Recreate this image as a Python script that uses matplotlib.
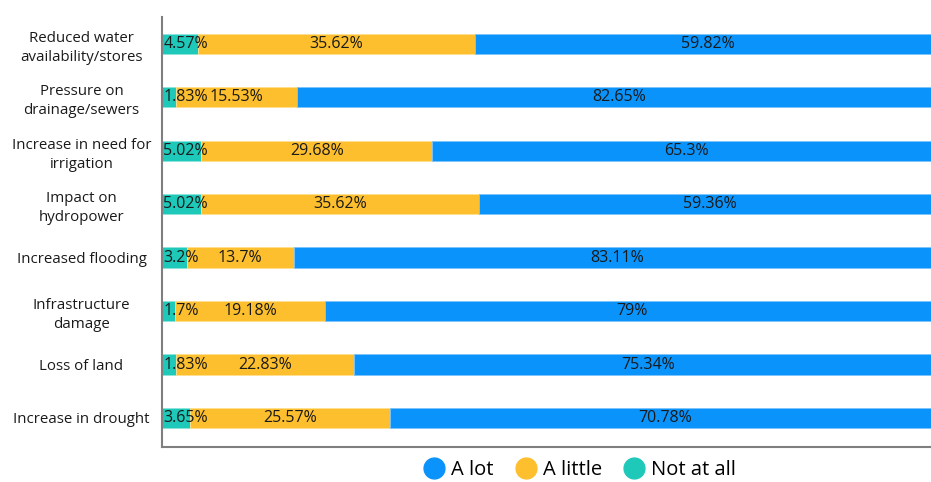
import matplotlib
matplotlib.use("Agg")
import matplotlib.pyplot as plt
from matplotlib.lines import Line2D
import numpy as np

plt.rcParams['font.family'] = ['Open Sans', 'DejaVu Sans']

categories = [
    "Reduced water\navailability/stores",
    "Pressure on\ndrainage/sewers",
    "Increase in need for\nirrigation",
    "Impact on\nhydropower",
    "Increased flooding",
    "Infrastructure\ndamage",
    "Loss of land",
    "Increase in drought",
]
not_at_all = [4.57, 1.83, 5.02, 5.02, 3.2, 1.7, 1.83, 3.65]
a_little = [35.62, 15.53, 29.68, 35.62, 13.7, 19.18, 22.83, 25.57]
a_lot = [59.82, 82.65, 65.3, 59.36, 83.11, 79, 75.34, 70.78]
not_at_all_labels = ["4.57%", "1.83%", "5.02%", "5.02%", "3.2%", "1.7%", "1.83%", "3.65%"]
a_little_labels = ["35.62%", "15.53%", "29.68%", "35.62%", "13.7%", "19.18%", "22.83%", "25.57%"]
a_lot_labels = ["59.82%", "82.65%", "65.3%", "59.36%", "83.11%", "79%", "75.34%", "70.78%"]

c_lot = "#0A93FA"
c_little = "#FDBF2D"
c_not = "#1FC9B9"

fig = plt.figure(figsize=(9.31, 4.82), dpi=100)
ax = fig.add_axes([0.174, 0.073, 0.826, 0.892])

y = np.arange(len(categories))
h = 0.38
na = np.array(not_at_all)
al = np.array(a_little)
lo = np.array(a_lot)
ax.barh(y, na, height=h, color=c_not, edgecolor="#8fe3dc", linewidth=0.6)
ax.barh(y, al, left=na, height=h, color=c_little, edgecolor="#ffe08f", linewidth=0.6)
ax.barh(y, lo, left=na + al, height=h, color=c_lot, edgecolor="#7cc4fb", linewidth=0.6)

fs = 11.5
tc = "#1a1a1a"
for i in range(len(categories)):
    ax.text(0.15, y[i], not_at_all_labels[i], ha="left", va="center", fontsize=fs, color=tc)
    ax.text(na[i] + al[i] / 2, y[i], a_little_labels[i], ha="center", va="center", fontsize=fs, color=tc)
    ax.text(na[i] + al[i] + lo[i] / 2, y[i], a_lot_labels[i], ha="center", va="center", fontsize=fs, color=tc)

ax.set_xlim(0, 98.7)
ax.set_ylim(7.54, -0.505)
ax.set_yticks(y)
ax.set_yticklabels(categories, fontsize=10.8, color="#1a1a1a", linespacing=1.35, ha="center")
ax.tick_params(axis="y", length=0, pad=58)
ax.set_xticks([])
for s in ["top", "right"]:
    ax.spines[s].set_visible(False)
for s in ["left", "bottom"]:
    ax.spines[s].set_color("#7f7f7f")
    ax.spines[s].set_linewidth(1.5)

handles = [
    Line2D([], [], marker="o", linestyle="", markersize=15, color=c_lot, label="A lot"),
    Line2D([], [], marker="o", linestyle="", markersize=15, color=c_little, label="A little"),
    Line2D([], [], marker="o", linestyle="", markersize=15, color=c_not, label="Not at all"),
]
fig.legend(handles=handles, loc="center", bbox_to_anchor=(0.623, 0.024), ncol=3,
           frameon=False, fontsize=14.5, handletextpad=0.35, columnspacing=1.1,
           handlelength=1.0, borderpad=0.2)

fig.savefig("out.png", dpi=100)
